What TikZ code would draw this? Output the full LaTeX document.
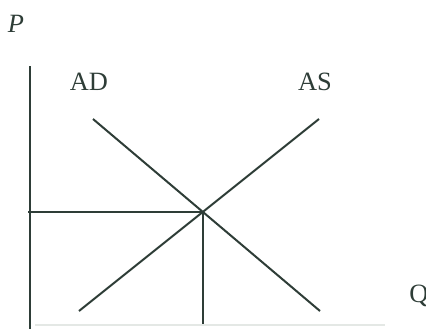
\documentclass[tikz,border=0pt]{standalone}
\usepackage{fontspec}
\setmainfont{Liberation Serif}
\begin{document}
\begin{tikzpicture}[x=0.5pt,y=-0.5pt,
  ink/.style={draw=inkc,line width=1pt},
  thin/.style={draw=inkc,line width=0.8pt},
  lbl/.style={text=inkc,inner sep=0pt,anchor=base,font=\fontsize{13.2}{15}\selectfont}]
\definecolor{inkc}{HTML}{2E3D37}
\definecolor{faint}{HTML}{E4E8E5}
\useasboundingbox (0,0) rectangle (426,328);
% labels
\node[lbl] (P) at (16,32) {\itshape P};
\node[lbl] (AD) at (89,90) {AD};
\node[lbl] (AS) at (315,90) {AS};
\node[lbl,anchor=base west] (Q) at (409,302) {Q};
% axis
\coordinate (ytop) at (30,66);
\coordinate (ybot) at (30,330);
\draw[ink] (ytop) -- (ybot);
\coordinate (xl) at (35,325);
\coordinate (xr) at (385,325);
\draw[draw=faint,line width=0.8pt] (xl) -- (xr);
% curves
\coordinate (ad1) at (93,119);
\coordinate (ad2) at (320,311);
\coordinate (as1) at (79,311);
\coordinate (as2) at (319,119);
\draw[ink] (ad1) -- (ad2);
\draw[ink] (as1) -- (as2);
\coordinate (e) at (intersection of ad1--ad2 and as1--as2);
\coordinate (eh) at (28,0);
\coordinate (ev) at (0,324);
\draw[thin] (e) -- (eh |- e);
\draw[thin] (e) -- (e |- ev);
\end{tikzpicture}
\end{document}
